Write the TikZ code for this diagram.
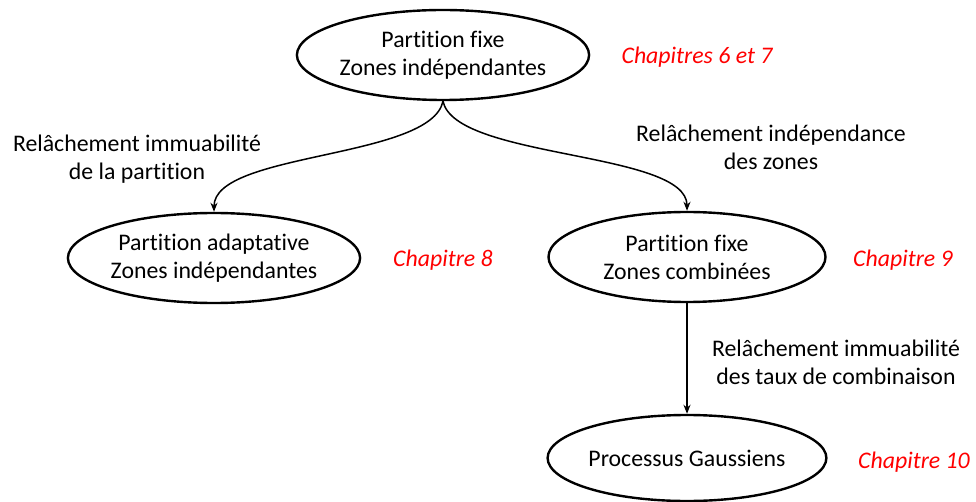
\documentclass[tikz,border=0pt]{standalone}
\usepackage{fontspec}
\setmainfont[RawFeature={-liga}]{Carlito}
\usetikzlibrary{shapes.geometric,arrows.meta}
\begin{document}
\begin{tikzpicture}[x=1pt,y=-1pt,
  box/.style={ellipse,draw,line width=2.4pt,minimum width=277pt,minimum height=90pt,inner sep=0pt,align=center,font=\fontsize{23.8}{28}\selectfont},
  lbl/.style={align=center,font=\fontsize{23.8}{28}\selectfont},
  chap/.style={text=red,font=\fontsize{23.8}{28}\selectfont\itshape},
  conn/.style={line width=1.5pt,-{Stealth[length=9pt,width=7pt]}}]
\useasboundingbox (0,0) rectangle (976,502);
\node[box] (top) at (443,55) {Partition fixe\\Zones indépendantes};
\node[box] (left) at (214,258) {Partition adaptative\\Zones indépendantes};
\node[box] (right) at (687,257) {Partition fixe\\Zones combinées};
\node[box,minimum height=86pt] (bot) at (687,458) {Processus Gaussiens};
\node[chap] (c1) at (697,57) {Chapitres 6 et 7};
\node[chap] (c2) at (443,260) {Chapitre 8};
\node[chap] (c3) at (903,260) {Chapitre 9};
\node[chap] (c4) at (914,462) {Chapitre 10};
\node[lbl] (l1) at (137,159) {Relâchement immuabilité\\de la partition};
\node[lbl] (l2) at (771,147) {Relâchement indépendance\\des zones};
\node[lbl] (l3) at (836,362) {Relâchement immuabilité\\des taux de combinaison};
\draw[conn] (top.south) .. controls +(-12,58) and +(0,-60) .. (left.north);
\draw[conn] (top.south) .. controls +(12,58) and +(0,-60) .. (right.north);
\draw[conn] (right.south) -- (bot.north);
\end{tikzpicture}
\end{document}
